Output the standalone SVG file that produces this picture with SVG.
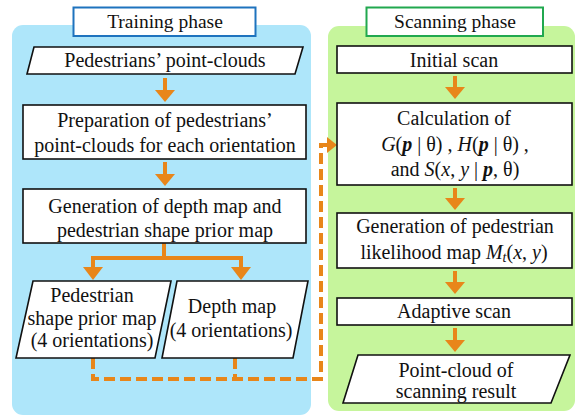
<svg xmlns="http://www.w3.org/2000/svg" width="576" height="417" viewBox="0 0 576 417">
<defs>
<style>
text{font-family:'Liberation Serif','Times New Roman',serif;font-size:20px;fill:#111;text-anchor:middle}
.lbl{font-size:19.5px}
.box{fill:#fff;stroke:#111;stroke-width:1.6}
.arr{fill:#e8861a}
.ln{fill:none;stroke:#e8861a;stroke-width:4}
.dash{fill:none;stroke:#e8861a;stroke-width:4;stroke-dasharray:11 5}
.i{font-style:italic}
.bi{font-style:italic;font-weight:bold}
</style>
</defs>
<rect x="0" y="0" width="576" height="417" fill="#fff"/>
<g id="training-panel">
<rect x="12" y="25" width="299" height="390" rx="11" fill="#aee6fa"/>
</g>
<g id="scanning-panel">
<rect x="328" y="26" width="247" height="385" rx="11" fill="#c6f59c"/>
</g>
<g id="training-label">
<rect x="73.5" y="7.5" width="182" height="28.5" fill="#fff" stroke="#1e73be" stroke-width="2"/>
<text class="lbl" x="165" y="28">Training phase</text>
</g>
<g id="scanning-label">
<rect x="366.5" y="7.5" width="176.5" height="28.5" fill="#fff" stroke="#21a84f" stroke-width="2"/>
<text class="lbl" x="455" y="28">Scanning phase</text>
</g>
<g id="connectors">
<rect class="arr" x="163" y="78" width="4" height="13"/>
<polygon class="arr" points="155,90 175,90 165,102"/>
<rect class="arr" x="163" y="162" width="4" height="13"/>
<polygon class="arr" points="155,174 175,174 165,186"/>
<path class="ln" d="M164,243 V258 M91,258 H243 M93,256 V268 M241,256 V268"/>
<polygon class="arr" points="83,267 103,267 93,280"/>
<polygon class="arr" points="231,267 251,267 241,280"/>
<path class="dash" d="M93,358 V379 H321 V145 H328"/>
<path class="dash" d="M235,358 V379"/>
<polygon class="arr" points="327,137 337,145 327,153"/>
<rect class="arr" x="453" y="76" width="4" height="12"/>
<polygon class="arr" points="445,87 465,87 455,99"/>
<rect class="arr" x="453" y="188" width="4" height="11"/>
<polygon class="arr" points="445,198 465,198 455,210"/>
<rect class="arr" x="453" y="271" width="4" height="12"/>
<polygon class="arr" points="445,282 465,282 455,294"/>
<rect class="arr" x="453" y="328" width="4" height="12"/>
<polygon class="arr" points="445,340 465,340 455,352"/>
</g>
<g id="pedestrians-point-clouds">
<polygon class="box" points="34,47 303,47 295,74 27,74"/>
<text x="165" y="67">Pedestrians’ point-clouds</text>
</g>
<g id="preparation">
<rect class="box" x="23" y="105" width="283" height="54"/>
<text x="165" y="127">Preparation of pedestrians’</text>
<text x="165" y="152">point-clouds for each orientation</text>
</g>
<g id="generation-depth">
<rect class="box" x="23" y="189" width="283" height="54"/>
<text x="165" y="213">Generation of depth map and</text>
<text x="165" y="237">pedestrian shape prior map</text>
</g>
<g id="shape-prior-map">
<polygon class="box" points="33,281 171,281 155,358 16,358"/>
<text x="92" y="302">Pedestrian</text>
<text x="92" y="325">shape prior map</text>
<text x="92" y="347">(4 orientations)</text>
</g>
<g id="depth-map">
<polygon class="box" points="177,281 308,281 293,358 162,358"/>
<text x="232" y="313">Depth map</text>
<text x="231" y="337">(4 orientations)</text>
</g>
<g id="initial-scan">
<rect class="box" x="337" y="46" width="235" height="27"/>
<text x="454" y="67">Initial scan</text>
</g>
<g id="calculation">
<rect class="box" x="337" y="103" width="235" height="82"/>
<text x="454" y="125">Calculation of</text>
<text x="455" y="151"><tspan class="i">G</tspan>(<tspan class="bi">p</tspan> | θ) , <tspan class="i">H</tspan>(<tspan class="bi">p</tspan> | θ) ,</text>
<text x="455" y="176">and <tspan class="i">S</tspan>(<tspan class="i">x</tspan>, <tspan class="i">y</tspan> | <tspan class="bi">p</tspan>, θ)</text>
</g>
<g id="likelihood-map">
<rect class="box" x="337" y="213" width="235" height="55"/>
<text x="455" y="233">Generation of pedestrian</text>
<text x="454" y="259">likelihood map <tspan class="i">M</tspan><tspan class="i" font-size="14" dy="3">t</tspan><tspan dy="-3">(</tspan><tspan class="i">x</tspan>, <tspan class="i">y</tspan>)</text>
</g>
<g id="adaptive-scan">
<rect class="box" x="337" y="298" width="235" height="27"/>
<text x="454" y="318">Adaptive scan</text>
</g>
<g id="scan-result">
<polygon class="box" points="358,355 570,355 551,403 343,403"/>
<text x="456" y="377">Point-cloud of</text>
<text x="456" y="398">scanning result</text>
</g>
</svg>
